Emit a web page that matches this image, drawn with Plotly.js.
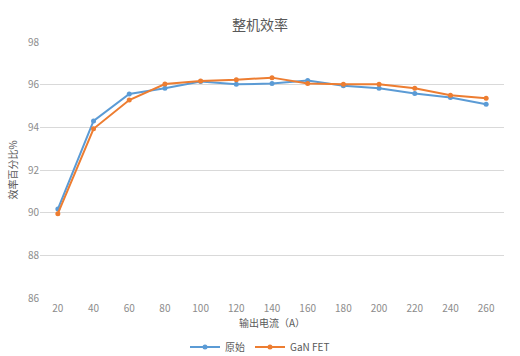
<!DOCTYPE html>
<html>
<head>
<meta charset="utf-8">
<script src="https://cdn.plot.ly/plotly-3.0.1.min.js"></script>
<style>html,body{margin:0;padding:0;background:#fff;}#chart{width:520px;height:356px;}</style>
</head>
<body>
<div id="chart"></div>
<script>
const categories = ["20","40","60","80","100","120","140","160","180","200","220","240","260"];
const originalValues = [90.17, 94.3, 95.56, 95.83, 96.15, 96.02, 96.05, 96.2, 95.95, 95.83, 95.59, 95.4, 95.08];
const ganValues = [89.95, 93.93, 95.28, 96.03, 96.17, 96.23, 96.33, 96.05, 96.02, 96.02, 95.83, 95.5, 95.36];
const seriesNames = ["原始", "GaN FET"];
const yTicks = [86, 88, 90, 92, 94, 96, 98];

const font = 'Noto Sans CJK SC, "Noto Sans", sans-serif';
const traces = [
  {x: categories, y: originalValues, name: seriesNames[0], type: 'scatter', mode: 'lines+markers',
   line: {color: '#5b9bd5', width: 2}, marker: {color: '#5b9bd5', size: 5}},
  {x: categories, y: ganValues, name: seriesNames[1], type: 'scatter', mode: 'lines+markers',
   line: {color: '#ed7d31', width: 2}, marker: {color: '#ed7d31', size: 5}}
];
const layout = {
  width: 520, height: 356,
  margin: {l: 40, r: 16, t: 42, b: 58},
  paper_bgcolor: '#fff', plot_bgcolor: '#fff',
  font: {family: font, color: '#8c8c8c', size: 10},
  title: {text: '整机效率', font: {family: font, size: 14, color: '#595959'}, x: 0.5, xanchor: 'center', y: 0.93, yanchor: 'middle', xref: 'container', yref: 'container'},
  xaxis: {type: 'category', range: [-0.5, 12.5], showgrid: false, zeroline: false, showline: false, ticks: '',
    ticklabelstandoff: 3,
    tickfont: {family: font, size: 10, color: '#8c8c8c'},
    title: {text: '输出电流（A）', font: {family: font, size: 10, color: '#595959'}, standoff: 4}},
  yaxis: {range: [86, 98], tickvals: yTicks, showgrid: true, gridcolor: '#d9d9d9', gridwidth: 1, zeroline: false, showline: false, ticks: '',
    tickfont: {family: font, size: 10, color: '#8c8c8c'},
    title: {text: '效率百分比%', font: {family: font, size: 10, color: '#595959'}, standoff: 8}},
  legend: {orientation: 'h', xref: 'container', yref: 'container', x: 0.5, xanchor: 'center', y: 0.025, yanchor: 'middle',
    font: {family: font, size: 10, color: '#595959'}, itemwidth: 30, tracegroupgap: 0},
  showlegend: true
};
Plotly.newPlot('chart', traces, layout, {displayModeBar: false, staticPlot: true});
</script>
</body>
</html>
